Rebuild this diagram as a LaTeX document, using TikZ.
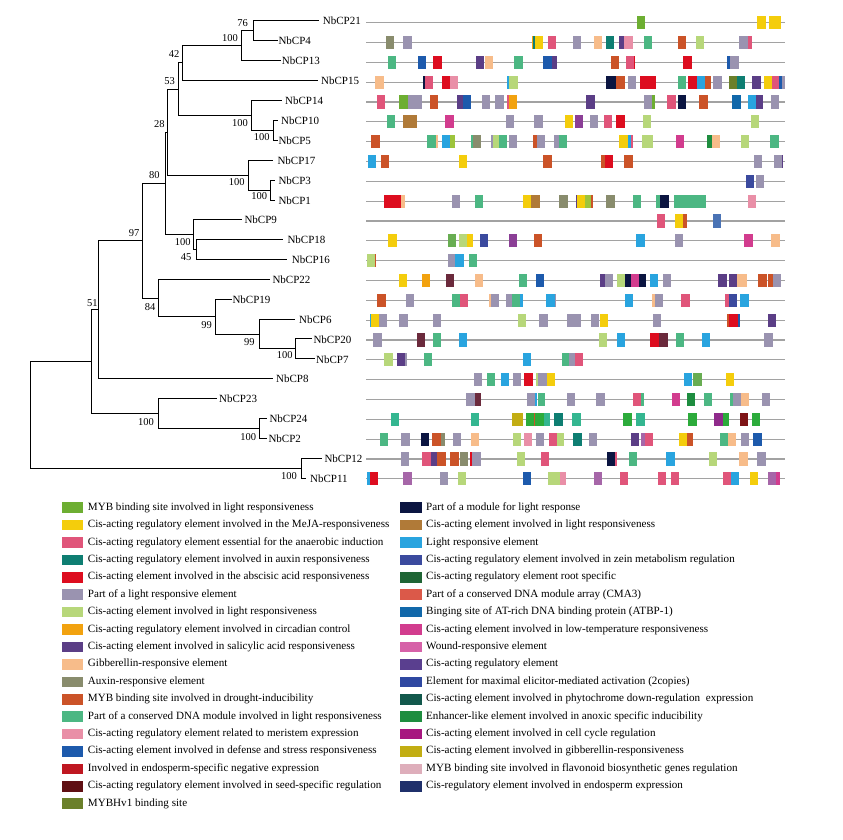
\documentclass[tikz,border=0pt]{standalone}
\usepackage{fontspec}
\setmainfont{Liberation Serif}
\definecolor{rowgray}{HTML}{A2A2A2}
\definecolor{mybg}{HTML}{6DAE32}
\definecolor{meja}{HTML}{F4CD0C}
\definecolor{anae}{HTML}{E0557A}
\definecolor{auxt}{HTML}{0E7E72}
\definecolor{aba}{HTML}{DD0D1F}
\definecolor{plre}{HTML}{9A93B0}
\definecolor{lgrn}{HTML}{B7D77A}
\definecolor{circ}{HTML}{F2A20F}
\definecolor{sali}{HTML}{5B3E86}
\definecolor{gib}{HTML}{F7BC8A}
\definecolor{auxr}{HTML}{898C6D}
\definecolor{drou}{HTML}{CB5328}
\definecolor{cdna}{HTML}{4CB783}
\definecolor{meri}{HTML}{E98FA7}
\definecolor{defe}{HTML}{1D5AAC}
\definecolor{endn}{HTML}{BF1721}
\definecolor{seed}{HTML}{5F0F13}
\definecolor{hv1}{HTML}{6B802B}
\definecolor{mod}{HTML}{0B1541}
\definecolor{brwn}{HTML}{B07A38}
\definecolor{lre}{HTML}{29A4DF}
\definecolor{zein}{HTML}{3B4A9E}
\definecolor{root}{HTML}{1F6535}
\definecolor{cma}{HTML}{DB5949}
\definecolor{atbp}{HTML}{1168AA}
\definecolor{lowt}{HTML}{D23C8E}
\definecolor{wnd}{HTML}{D661A8}
\definecolor{creg}{HTML}{5A3F8F}
\definecolor{elic}{HTML}{2F48A1}
\definecolor{phy}{HTML}{12584C}
\definecolor{enh}{HTML}{1E8D3F}
\definecolor{cyc}{HTML}{A7167F}
\definecolor{gibr}{HTML}{C2AD13}
\definecolor{flav}{HTML}{DEAEBB}
\definecolor{endo}{HTML}{1F306B}
\definecolor{vio}{HTML}{8B3F96}
\definecolor{ygr}{HTML}{9DC43C}
\definecolor{mybgb}{HTML}{68AD52}
\definecolor{seedb}{HTML}{6B2A3C}
\definecolor{stb}{HTML}{4A73B5}
\definecolor{tg}{HTML}{34B690}
\definecolor{gnb}{HTML}{2CAB3B}
\definecolor{cycb}{HTML}{8F2A8B}
\definecolor{seedc}{HTML}{7E1416}
\definecolor{wndb}{HTML}{A666A8}
\newcommand\bx[4]{\fill[#4] (#2,{22.7+19.83*(#1-1)-6.6}) rectangle (#3,{22.7+19.83*(#1-1)+6.6});}
\begin{document}
\begin{tikzpicture}[x=1pt,y=-1pt,
  br/.style={line width=0.9pt,black},
  leaf/.style={anchor=base west,inner sep=0pt,font=\fontsize{11}{13}\selectfont},
  bs/.style={anchor=center,inner sep=0pt,font=\fontsize{10.5}{12}\selectfont},
  rowline/.style={line width=1.25pt,rowgray},
  lgt/.style={anchor=west,inner sep=0pt,font=\fontsize{11.1}{13}\selectfont,text height=7.5pt,text depth=2.5pt}]
\useasboundingbox (0,0) rectangle (843,840);
% ---------- tree: leaf ends
\coordinate (e21) at (319,20.3);
\coordinate (e4) at (277.7,40.3);
\coordinate (e13) at (281,60.3);
\coordinate (e15) at (318.3,80.3);
\coordinate (e14) at (281.7,100);
\coordinate (e10) at (277.7,120.3);
\coordinate (e5) at (277.7,140.3);
\coordinate (e17) at (273.3,160.3);
\coordinate (e3) at (275,180);
\coordinate (e1) at (275,200);
\coordinate (e9) at (241.7,219.3);
\coordinate (e18) at (283.3,239.3);
\coordinate (e16) at (287.3,259.3);
\coordinate (e22) at (270,279.3);
\coordinate (e19) at (231.7,299.3);
\coordinate (e6) at (295,319.3);
\coordinate (e20) at (312.3,338.7);
\coordinate (e7) at (315,358.7);
\coordinate (e8) at (273.3,378.3);
\coordinate (e23) at (216.7,398.3);
\coordinate (e24) at (266.7,418.3);
\coordinate (e2) at (266.7,438.3);
\coordinate (e12) at (321.7,458.3);
\coordinate (e11) at (306,478.3);
% internal nodes
\coordinate (A) at (253.3,30.3);
\coordinate (B) at (241.7,45.3);
\coordinate (C) at (182.7,62.8);
\coordinate (E) at (273.3,130.3);
\coordinate (D) at (251.7,115.15);
\coordinate (F) at (178.7,89);
\coordinate (H) at (270,190);
\coordinate (G) at (248.3,175.15);
\coordinate (I) at (167.3,132.1);
\coordinate (L) at (196.7,249.3);
\coordinate (K) at (193.3,234.3);
\coordinate (J) at (165,183.2);
\coordinate (Q) at (295.7,348.7);
\coordinate (P) at (259.3,334);
\coordinate (O) at (215.7,316.65);
\coordinate (N) at (158.3,298);
\coordinate (M) at (142.7,240.6);
\coordinate (R) at (98.7,309.45);
\coordinate (U) at (259.3,428.3);
\coordinate (T) at (158.3,413.3);
\coordinate (S) at (91.3,361.4);
\coordinate (V) at (301.7,468.3);
\coordinate (Root) at (30.3,414.85);
\foreach \p/\c in {A/e21,A/e4,B/A,B/e13,C/B,C/e15,E/e10,E/e5,D/e14,D/E,F/C,F/D,H/e3,H/e1,G/e17,G/H,I/F,I/G,L/e18,L/e16,K/e9,K/L,J/I,J/K,Q/e20,Q/e7,P/e6,P/Q,O/e19,O/P,N/e22,N/O,M/J,M/N,R/M,R/e8,U/e24,U/e2,T/e23,T/U,S/R,S/T,V/e12,V/e11,Root/S,Root/V}
  \draw[br] (\p) |- (\c);
% leaf labels
\node[leaf] (n21) at (322.7,24.9) {NbCP21};
\node[leaf] (n4) at (278.3,44.9) {NbCP4};
\node[leaf] (n13) at (281.7,64.9) {NbCP13};
\node[leaf] (n15) at (321,84.9) {NbCP15};
\node[leaf] (n14) at (285,104.6) {NbCP14};
\node[leaf] (n10) at (281,124.9) {NbCP10};
\node[leaf] (n5) at (278.3,144.9) {NbCP5};
\node[leaf] (n17) at (277.3,164.9) {NbCP17};
\node[leaf] (n3) at (278.3,184.6) {NbCP3};
\node[leaf] (n1) at (278.3,204.6) {NbCP1};
\node[leaf] (n9) at (244.3,223.9) {NbCP9};
\node[leaf] (n18) at (287.3,243.9) {NbCP18};
\node[leaf] (n16) at (291.7,263.9) {NbCP16};
\node[leaf] (n22) at (272.3,283.9) {NbCP22};
\node[leaf] (n19) at (232.3,303.9) {NbCP19};
\node[leaf] (n6) at (299,323.9) {NbCP6};
\node[leaf] (n20) at (313.3,343.3) {NbCP20};
\node[leaf] (n7) at (316,363.3) {NbCP7};
\node[leaf] (n8) at (276,382.9) {NbCP8};
\node[leaf] (n23) at (219,402.9) {NbCP23};
\node[leaf] (n24) at (269.3,422.9) {NbCP24};
\node[leaf] (n2) at (268.3,442.9) {NbCP2};
\node[leaf] (n12) at (324.3,462.9) {NbCP12};
\node[leaf] (n11) at (310,482.9) {NbCP11};
% bootstrap values
\node[bs] (bA) at (242.7,23.3) {76};
\node[bs] (bB) at (230,38) {100};
\node[bs] (bC) at (174,53.7) {42};
\node[bs] (bF) at (169.7,81) {53};
\node[bs] (bD) at (240,123) {100};
\node[bs] (bE) at (261.7,136.7) {100};
\node[bs] (bI) at (159.3,124.3) {28};
\node[bs] (bG) at (236.7,181.7) {100};
\node[bs] (bH) at (259.3,196) {100};
\node[bs] (bJ) at (154.3,175) {80};
\node[bs] (bK) at (182.7,241.7) {100};
\node[bs] (bL) at (186,256.7) {45};
\node[bs] (bM) at (134,232.7) {97};
\node[bs] (bN) at (150,306.7) {84};
\node[bs] (bO) at (206.7,325) {99};
\node[bs] (bP) at (249.3,342.3) {99};
\node[bs] (bQ) at (284.7,355) {100};
\node[bs] (bR) at (92.3,302.7) {51};
\node[bs] (bT) at (146,422.3) {100};
\node[bs] (bU) at (248.3,437.3) {100};
\node[bs] (bV) at (289,476) {100};
% ---------- promoter rows
\foreach \r in {1,...,24} \draw[rowline] (366,{22.7+19.83*(\r-1)}) -- (785,{22.7+19.83*(\r-1)});
% row 1
\bx{1}{637.3}{645.3}{mybg}\bx{1}{757.3}{765.7}{meja}\bx{1}{769}{781.3}{meja}
% row 2
\bx{2}{386}{394}{auxr}\bx{2}{403.3}{411.7}{plre}\bx{2}{532}{534}{circ}\bx{2}{533.3}{535}{auxt}\bx{2}{535}{543}{meja}
\bx{2}{547.7}{556}{anae}\bx{2}{572.7}{581}{plre}\bx{2}{594}{602.3}{gib}\bx{2}{606}{614.3}{auxt}\bx{2}{619}{624}{sali}\bx{2}{624}{632.7}{meri}
\bx{2}{644.3}{652.3}{cdna}\bx{2}{678}{686.3}{drou}\bx{2}{696}{704.3}{lgrn}\bx{2}{739.3}{747.7}{plre}\bx{2}{747.7}{752.3}{anae}
% row 3
\bx{3}{387.7}{396}{cdna}\bx{3}{418}{426.3}{defe}\bx{3}{433.3}{442}{aba}\bx{3}{475.7}{484}{sali}\bx{3}{485}{493}{gib}
\bx{3}{514.3}{522.7}{cdna}\bx{3}{543.3}{551.7}{defe}\bx{3}{551.7}{557}{sali}\bx{3}{610.7}{619}{drou}\bx{3}{626}{634.3}{anae}\bx{3}{634.3}{635.3}{aba}
\bx{3}{683.3}{691.7}{aba}\bx{3}{727}{730.3}{defe}\bx{3}{730.3}{738.7}{plre}
% row 4
\bx{4}{375.3}{383.7}{gib}\bx{4}{423.3}{424.7}{mod}\bx{4}{424.7}{433.3}{anae}\bx{4}{441.7}{450}{aba}\bx{4}{450}{458}{meri}
\bx{4}{507}{509.3}{lre}\bx{4}{509.3}{517.7}{lgrn}\bx{4}{606.3}{616}{mod}\bx{4}{616}{625.3}{drou}\bx{4}{627.7}{636}{plre}
\bx{4}{640}{655.7}{aba}\bx{4}{678}{686.3}{cdna}\bx{4}{688}{696.7}{aba}\bx{4}{696.7}{705.3}{lre}\bx{4}{705.3}{711}{drou}
\bx{4}{713.3}{721.7}{plre}\bx{4}{729}{737}{hv1}\bx{4}{737}{745}{auxt}\bx{4}{752.3}{760.7}{sali}
\bx{4}{764}{772.3}{meja}\bx{4}{772.3}{778.7}{anae}\bx{4}{778.7}{782}{defe}\bx{4}{782}{785}{plre}
% row 5
\bx{5}{377}{385}{anae}\bx{5}{399.3}{407.7}{mybg}\bx{5}{407.7}{422.3}{plre}\bx{5}{429.7}{438}{drou}\bx{5}{457}{463}{sali}\bx{5}{463}{471.3}{defe}
\bx{5}{481.7}{490}{plre}\bx{5}{495.3}{503.7}{plre}\bx{5}{507}{509}{anae}\bx{5}{509}{517.3}{circ}\bx{5}{586.3}{594.7}{sali}
\bx{5}{644}{652}{plre}\bx{5}{652}{655.3}{mybg}\bx{5}{667.3}{675.7}{anae}\bx{5}{677.7}{686}{mod}\bx{5}{699.3}{707.7}{drou}
\bx{5}{732.3}{740.7}{atbp}\bx{5}{747.7}{756}{lre}\bx{5}{756}{763}{sali}\bx{5}{771}{779.3}{plre}
% row 6
\bx{6}{387}{395.3}{cdna}\bx{6}{403}{416.7}{brwn}\bx{6}{445.3}{453.7}{lowt}\bx{6}{506}{514.3}{plre}\bx{6}{534.3}{542.7}{plre}
\bx{6}{564.7}{573}{meja}\bx{6}{575}{583.3}{vio}\bx{6}{590}{598.3}{plre}\bx{6}{603.7}{612}{anae}\bx{6}{616.3}{624.7}{aba}
\bx{6}{643}{651}{lgrn}\bx{6}{750.7}{759}{lgrn}
% row 7
\bx{7}{371}{379.7}{drou}\bx{7}{427.3}{435.7}{cdna}\bx{7}{435.7}{438.3}{gib}\bx{7}{441.7}{449.7}{lre}\bx{7}{449.7}{455}{ygr}
\bx{7}{471}{472.7}{cdna}\bx{7}{472.7}{481}{auxr}\bx{7}{491.3}{492.7}{plre}\bx{7}{492.7}{498.7}{lgrn}\bx{7}{498.7}{506.7}{cdna}
\bx{7}{509}{517.3}{plre}\bx{7}{533.3}{536.7}{drou}\bx{7}{536.7}{545}{plre}\bx{7}{554.3}{559.3}{plre}\bx{7}{559.3}{567.3}{cdna}
\bx{7}{619}{627.7}{meja}\bx{7}{627.7}{630.7}{lre}\bx{7}{630.7}{633.3}{anae}\bx{7}{641.7}{653.3}{lgrn}\bx{7}{676}{684.3}{lowt}
\bx{7}{707.3}{712}{enh}\bx{7}{712}{720.3}{gib}\bx{7}{741}{749.3}{lgrn}\bx{7}{770.3}{778.7}{cdna}
% row 8
\bx{8}{368}{376.3}{lre}\bx{8}{380.7}{389}{drou}\bx{8}{459}{467.3}{meja}\bx{8}{543.3}{551.7}{drou}\bx{8}{600.7}{604.7}{drou}\bx{8}{604.7}{613}{aba}
\bx{8}{624.3}{632.7}{drou}\bx{8}{753.7}{762}{plre}\bx{8}{773.7}{782}{plre}\bx{8}{782}{783.3}{sali}
% row 9
\bx{9}{746}{754.3}{zein}\bx{9}{756}{764.3}{plre}
% row 10
\bx{10}{384}{400.7}{aba}\bx{10}{400.7}{404.7}{gib}\bx{10}{452}{460.3}{plre}\bx{10}{475}{483.3}{cdna}\bx{10}{522.7}{531.3}{meja}\bx{10}{531.3}{540}{brwn}
\bx{10}{559.3}{567.7}{auxr}\bx{10}{576.3}{577.3}{sali}\bx{10}{577.3}{585.3}{meja}\bx{10}{585.3}{591.3}{ygr}\bx{10}{591.3}{593.3}{drou}
\bx{10}{605.7}{615.3}{auxr}\bx{10}{633.3}{641.3}{cdna}\bx{10}{656}{660.3}{cdna}\bx{10}{660.3}{668.7}{mod}\bx{10}{673.7}{706}{cdna}\bx{10}{748}{756}{meri}
% row 11
\bx{11}{657}{665.3}{anae}\bx{11}{675}{683.3}{meja}\bx{11}{683.3}{687}{drou}\bx{11}{713}{721.3}{stb}
% row 12
\bx{12}{388.3}{396.7}{meja}\bx{12}{447.7}{456}{mybgb}\bx{12}{458.7}{467.3}{lgrn}\bx{12}{467.3}{473}{meja}\bx{12}{480}{488.3}{zein}
\bx{12}{509.3}{517.3}{vio}\bx{12}{534}{542.3}{drou}\bx{12}{636.3}{644.7}{lre}\bx{12}{675}{683.3}{plre}\bx{12}{744.3}{752.7}{lowt}\bx{12}{771.3}{779.7}{gib}
% row 13
\bx{13}{367.3}{374.7}{lgrn}\bx{13}{374.7}{375.7}{drou}\bx{13}{448}{454.7}{plre}\bx{13}{454.7}{464}{lre}\bx{13}{468.7}{476.7}{cdna}
% row 14
\bx{14}{398.7}{407}{meja}\bx{14}{422}{430.3}{circ}\bx{14}{446}{454.3}{seedb}\bx{14}{475}{483}{gib}\bx{14}{519}{527}{cdna}\bx{14}{535.7}{544}{defe}
\bx{14}{599.7}{605}{sali}\bx{14}{605}{613}{plre}\bx{14}{617}{625.3}{lgrn}\bx{14}{625.3}{630.7}{mod}\bx{14}{630.7}{639.3}{lowt}\bx{14}{639.3}{646.3}{mod}
\bx{14}{649.7}{658}{lre}\bx{14}{662.7}{671}{plre}\bx{14}{718.3}{727}{sali}\bx{14}{729}{737.3}{sali}\bx{14}{737.3}{746.7}{gib}
\bx{14}{758.3}{766.7}{drou}\bx{14}{768}{772.7}{drou}\bx{14}{772.7}{781}{plre}
% row 15
\bx{15}{377.3}{385.7}{drou}\bx{15}{405.7}{414}{plre}\bx{15}{451.7}{459.7}{cdna}\bx{15}{459.7}{467.7}{anae}\bx{15}{489.3}{491}{gib}\bx{15}{491}{499.3}{plre}
\bx{15}{506}{512.3}{plre}\bx{15}{512.3}{520.3}{cdna}\bx{15}{520.3}{523}{lre}\bx{15}{546.3}{555}{lre}\bx{15}{555}{556}{plre}
\bx{15}{624.7}{633}{lre}\bx{15}{651.7}{655}{gib}\bx{15}{655}{663}{plre}\bx{15}{681.3}{689.7}{anae}\bx{15}{725.3}{729}{anae}\bx{15}{729}{737.3}{zein}\bx{15}{740.3}{748.7}{lre}
% row 16
\bx{16}{369.7}{371}{lre}\bx{16}{371}{379.3}{meja}\bx{16}{379.3}{387.3}{plre}\bx{16}{399.3}{407.7}{plre}\bx{16}{433}{441.3}{plre}\bx{16}{518}{526.3}{lgrn}
\bx{16}{539}{547.7}{plre}\bx{16}{567}{581}{plre}\bx{16}{590.7}{599}{plre}\bx{16}{599.7}{607.7}{meja}\bx{16}{652.7}{661}{plre}
\bx{16}{727.3}{729.3}{drou}\bx{16}{729.3}{737.7}{aba}\bx{16}{737.7}{740.3}{defe}\bx{16}{768}{776.3}{sali}
% row 17
\bx{17}{373.3}{381.7}{plre}\bx{17}{417.3}{425.3}{seedb}\bx{17}{433}{441}{cdna}\bx{17}{458.7}{466.7}{lre}\bx{17}{599}{607}{lgrn}\bx{17}{617}{625.3}{lre}
\bx{17}{650}{658.7}{aba}\bx{17}{658.7}{668}{seedb}\bx{17}{675.7}{683.7}{cdna}\bx{17}{701.7}{710}{lre}\bx{17}{764.3}{772.7}{plre}
% row 18
\bx{18}{384.3}{393}{lgrn}\bx{18}{396.7}{405}{sali}\bx{18}{405}{406.7}{plre}\bx{18}{423.7}{431.7}{cdna}\bx{18}{523}{531.3}{lre}
\bx{18}{562.3}{569}{cdna}\bx{18}{569}{575}{plre}\bx{18}{575}{583.3}{anae}
% row 19
\bx{19}{473.7}{482}{plre}\bx{19}{487}{495}{cdna}\bx{19}{501}{509.3}{lre}\bx{19}{513}{521.3}{plre}\bx{19}{524.3}{532.7}{aba}
\bx{19}{536}{538.3}{lgrn}\bx{19}{538.3}{546.7}{plre}\bx{19}{546.7}{555}{meja}\bx{19}{684}{692.3}{lre}\bx{19}{693.3}{701.7}{mybgb}\bx{19}{726}{734.3}{meja}
% row 20
\bx{20}{466.3}{474.7}{plre}\bx{20}{474.7}{480.7}{seedb}\bx{20}{526.7}{535.3}{plre}\bx{20}{535.3}{536.7}{lre}\bx{20}{537.7}{545.3}{cdna}
\bx{20}{567}{575.3}{plre}\bx{20}{596.3}{604.7}{plre}\bx{20}{632.7}{641}{anae}\bx{20}{641}{644.3}{cdna}\bx{20}{671.7}{680}{lowt}
\bx{20}{686.7}{695}{enh}\bx{20}{704}{712}{cdna}\bx{20}{730.3}{732.7}{cdna}\bx{20}{732.7}{741}{plre}\bx{20}{741}{749.3}{gib}\bx{20}{761.7}{770}{plre}
% row 21
\bx{21}{390.7}{399}{tg}\bx{21}{471}{479.3}{tg}\bx{21}{512.3}{523.3}{gibr}\bx{21}{525.7}{534}{gnb}\bx{21}{534}{535.3}{drou}\bx{21}{535.3}{543.7}{gnb}
\bx{21}{543.7}{550}{tg}\bx{21}{554.3}{563}{auxt}\bx{21}{572.3}{581}{tg}\bx{21}{623.3}{631.7}{gnb}\bx{21}{636.3}{645}{tg}
\bx{21}{688.3}{696.7}{gnb}\bx{21}{714.3}{723}{cycb}\bx{21}{723}{729.3}{gnb}\bx{21}{739.7}{748}{seedc}\bx{21}{752}{760.3}{gnb}
% row 22
\bx{22}{380}{388}{cdna}\bx{22}{401}{409.7}{plre}\bx{22}{421}{429.3}{mod}\bx{22}{432.3}{440.7}{drou}\bx{22}{440.7}{444.7}{auxr}
\bx{22}{453}{461.3}{plre}\bx{22}{471}{479.3}{gib}\bx{22}{512.7}{521}{lgrn}\bx{22}{523.7}{532}{meri}\bx{22}{536}{544.3}{plre}
\bx{22}{548.7}{557.3}{anae}\bx{22}{557.3}{563.7}{lgrn}\bx{22}{573}{581.7}{auxt}\bx{22}{589}{597.3}{plre}
\bx{22}{631}{639.3}{sali}\bx{22}{640.7}{645}{wndb}\bx{22}{645}{653}{anae}\bx{22}{679}{687}{meja}\bx{22}{687}{693.3}{drou}
\bx{22}{720.3}{728}{cdna}\bx{22}{728}{736.3}{gib}\bx{22}{741}{749.3}{plre}\bx{22}{753}{761.7}{defe}
% row 23
\bx{23}{401}{409.3}{plre}\bx{23}{422}{430.7}{anae}\bx{23}{430.7}{437.3}{sali}\bx{23}{437.3}{446}{drou}\bx{23}{450.3}{458.7}{drou}
\bx{23}{460}{468}{auxr}\bx{23}{470}{472}{aba}\bx{23}{472}{480.7}{plre}\bx{23}{517}{525.3}{lgrn}\bx{23}{540.7}{549}{anae}
\bx{23}{607}{615.3}{mod}\bx{23}{615.3}{616.7}{anae}\bx{23}{629}{637.3}{cdna}\bx{23}{666.3}{674.7}{lre}\bx{23}{708.7}{717}{lgrn}
\bx{23}{739.3}{747.7}{gib}\bx{23}{757.3}{765.7}{plre}
% row 24
\bx{24}{367.3}{370}{lre}\bx{24}{370}{378.3}{aba}\bx{24}{403.3}{411.7}{wndb}\bx{24}{440}{448.3}{plre}\bx{24}{458}{466.3}{lgrn}
\bx{24}{523}{531.3}{defe}\bx{24}{548}{560}{lgrn}\bx{24}{560}{565.7}{meri}\bx{24}{594.3}{602.3}{wndb}\bx{24}{619.7}{628}{anae}
\bx{24}{657.7}{666}{anae}\bx{24}{670.7}{679}{anae}\bx{24}{723}{731.3}{anae}\bx{24}{731.3}{739.3}{lre}\bx{24}{750}{758.3}{meja}
\bx{24}{767.7}{776}{wndb}\bx{24}{776}{780}{lowt}
% ---------- legend
\foreach \c/\t [count=\i] in {
 mybg/{MYB binding site involved in light responsiveness},
 meja/{Cis-acting regulatory element involved in the MeJA-responsiveness},
 anae/{Cis-acting regulatory element essential for the anaerobic induction},
 auxt/{Cis-acting regulatory element involved in auxin responsiveness},
 aba/{Cis-acting element involved in the abscisic acid responsiveness},
 plre/{Part of a light responsive element},
 lgrn/{Cis-acting element involved in light responsiveness},
 circ/{Cis-acting regulatory element involved in circadian control},
 sali/{Cis-acting element involved in salicylic acid responsiveness},
 gib/{Gibberellin-responsive element},
 auxr/{Auxin-responsive element},
 drou/{MYB binding site involved in drought-inducibility},
 cdna/{Part of a conserved DNA module involved in light responsiveness},
 meri/{Cis-acting regulatory element related to meristem expression},
 defe/{Cis-acting element involved in defense and stress responsiveness},
 endn/{Involved in endosperm-specific negative expression},
 seed/{Cis-acting regulatory element involved in seed-specific regulation},
 hv1/{MYBHv1 binding site}} {
  \fill[\c] (62.3,{507.7+17.41*(\i-1)-5.3}) rectangle (83.3,{507.7+17.41*(\i-1)+5.3});
  \node[lgt] (la\i) at (87.7,{507.7+17.41*(\i-1)}) {\t};
}
\foreach \c/\t [count=\i] in {
 mod/{Part of a module for light response},
 brwn/{Cis-acting element involved in light responsiveness},
 lre/{Light responsive element},
 zein/{Cis-acting regulatory element involved in zein metabolism regulation},
 root/{Cis-acting regulatory element root specific},
 cma/{Part of a conserved DNA module array (CMA3)},
 atbp/{Binging site of AT-rich DNA binding protein (ATBP-1)},
 lowt/{Cis-acting element involved in low-temperature responsiveness},
 wnd/{Wound-responsive element},
 creg/{Cis-acting regulatory element},
 elic/{Element for maximal elicitor-mediated activation (2copies)},
 phy/{Cis-acting element involved in phytochrome down-regulation\ \ expression},
 enh/{Enhancer-like element involved in anoxic specific inducibility},
 cyc/{Cis-acting element involved in cell cycle regulation},
 gibr/{Cis-acting element involved in gibberellin-responsiveness},
 flav/{MYB binding site involved in flavonoid biosynthetic genes regulation},
 endo/{Cis-regulatory element involved in endosperm expression}} {
  \fill[\c] (400,{507.7+17.41*(\i-1)-5.3}) rectangle (421.7,{507.7+17.41*(\i-1)+5.3});
  \node[lgt] (lb\i) at (426,{507.7+17.41*(\i-1)}) {\t};
}
\end{tikzpicture}
\end{document}
